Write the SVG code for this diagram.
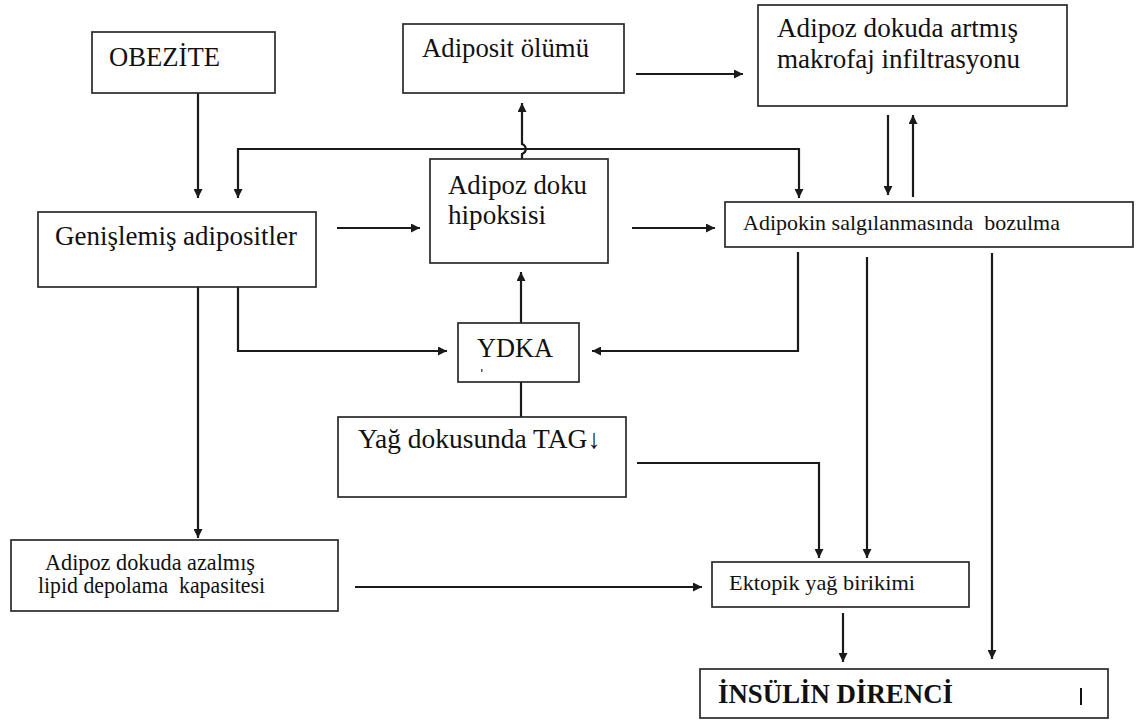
<svg xmlns="http://www.w3.org/2000/svg" width="1136" height="722" viewBox="0 0 1136 722">
<defs>
<marker id="ah" viewBox="0 0 10 10" refX="10" refY="5" markerWidth="10" markerHeight="9" markerUnits="userSpaceOnUse" orient="auto-start-reverse">
<path d="M0,0 L10,5 L0,10 z" fill="#1a1a1a"/>
</marker>
<style>
.box{fill:#fff;stroke:#2a2a2a;stroke-width:1.7}
.t{fill:#111}
.c{fill:none;stroke:#1a1a1a;stroke-width:2.2}
.a{marker-end:url(#ah)}
</style>
</defs>
<rect width="1136" height="722" fill="#fff"/>

<g id="connectors">
<path class="c a" d="M198,93 V198"/>
<path class="c a" d="M522,159 V154 C527,152 527,146 522,144 V103"/>
<path class="c a" d="M238,198 V149 H799 V198" marker-start="url(#ah)"/>
<path class="c a" d="M636,74 H743"/>
<path class="c a" d="M888,115 V195"/>
<path class="c a" d="M913,197 V115"/>
<path class="c a" d="M337,228 H420"/>
<path class="c a" d="M632,228 H715"/>
<path class="c a" d="M238,287 V351 H447"/>
<path class="c a" d="M798,252 V351 H592"/>
<path class="c a" d="M521,323 V272"/>
<path class="c" d="M521,382 V417"/>
<path class="c a" d="M637,463 H819 V558"/>
<path class="c a" d="M867,257 V558"/>
<path class="c a" d="M992,253 V659"/>
<path class="c a" d="M198,287 V538"/>
<path class="c a" d="M355,587 H702"/>
<path class="c a" d="M843,613 V662"/>
</g>

<g font-family="Liberation Serif, DejaVu Serif, serif">
<g id="obezite">
<rect class="box" x="92" y="32" width="183" height="61"/>
<text class="t" x="109" y="66" font-size="27" textLength="111" lengthAdjust="spacingAndGlyphs">OBEZİTE</text>
</g>

<g id="adiposit-olumu">
<rect class="box" x="403" y="24" width="221" height="69"/>
<text class="t" x="422" y="57" font-size="27" textLength="167" lengthAdjust="spacingAndGlyphs">Adiposit ölümü</text>
</g>

<g id="makrofaj">
<rect class="box" x="758" y="5" width="309" height="101"/>
<text class="t" x="777" y="37" font-size="27" textLength="241" lengthAdjust="spacingAndGlyphs">Adipoz dokuda artmış</text>
<text class="t" x="777" y="68" font-size="27" textLength="243" lengthAdjust="spacingAndGlyphs">makrofaj infiltrasyonu</text>
</g>

<g id="genislemis">
<rect class="box" x="38" y="212" width="278" height="75"/>
<text class="t" x="55" y="245" font-size="27" textLength="242" lengthAdjust="spacingAndGlyphs">Genişlemiş adipositler</text>
</g>

<g id="hipoksi">
<rect class="box" x="430" y="159" width="178" height="104"/>
<text class="t" x="448" y="194" font-size="27" textLength="139" lengthAdjust="spacingAndGlyphs">Adipoz doku</text>
<text class="t" x="448" y="224" font-size="27" textLength="98" lengthAdjust="spacingAndGlyphs">hipoksisi</text>
</g>

<g id="adipokin">
<rect class="box" x="725" y="202" width="408" height="45"/>
<text class="t" x="743" y="230" font-size="21" textLength="317" lengthAdjust="spacingAndGlyphs" xml:space="preserve">Adipokin salgılanmasında  bozulma</text>
</g>

<g id="ydka">
<rect class="box" x="458" y="323" width="121" height="59"/>
<text class="t" x="477" y="357" font-size="27" textLength="76" lengthAdjust="spacingAndGlyphs">YDKA</text>
<rect x="481" y="369" width="1.5" height="3" fill="#555"/>
</g>

<g id="tag">
<rect class="box" x="338" y="417" width="288" height="80"/>
<text class="t" x="358" y="448" font-size="27" textLength="243" lengthAdjust="spacingAndGlyphs">Yağ dokusunda TAG↓</text>
</g>

<g id="azalmis">
<rect class="box" x="11" y="540" width="327" height="71"/>
<text class="t" x="45" y="570" font-size="23" textLength="210" lengthAdjust="spacingAndGlyphs">Adipoz dokuda azalmış</text>
<text class="t" x="38" y="593" font-size="23" textLength="227" lengthAdjust="spacingAndGlyphs" xml:space="preserve">lipid depolama  kapasitesi</text>
</g>

<g id="ektopik">
<rect class="box" x="712" y="562" width="257" height="45"/>
<text class="t" x="729" y="590" font-size="22" textLength="186" lengthAdjust="spacingAndGlyphs">Ektopik yağ birikimi</text>
</g>

<g id="insulin">
<rect class="box" x="700" y="669" width="408" height="49"/>
<text class="t" x="718" y="703" font-size="27" font-weight="bold" textLength="235" lengthAdjust="spacingAndGlyphs">İNSÜLİN DİRENCİ</text>
<rect x="1080" y="688" width="2" height="17" fill="#111"/>
</g>
</g>
</svg>
